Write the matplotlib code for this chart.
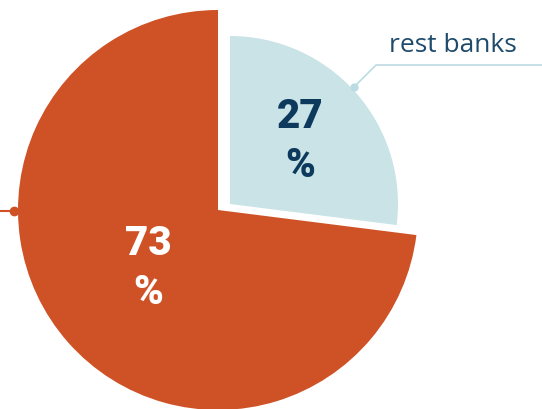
import matplotlib.pyplot as plt
import matplotlib.font_manager as fm

labels = ["rest banks", ""]
shares = [27, 73]
pct_text = ["27\n%", "73\n%"]

orange = "#CF5226"
light = "#C9E3E7"
navy = "#0D3A5C"
line_blue = "#BCDCE3"

names = {f.name for f in fm.fontManager.ttflist}
narrow = "Liberation Sans Narrow" if "Liberation Sans Narrow" in names else "Roboto"

fig = plt.figure(figsize=(5.42, 4.10), dpi=100)
ax = fig.add_axes([0, 0, 1, 1])

# big (orange) pie, blue slice hidden
w1, _ = ax.pie(shares, colors=["none", orange], startangle=90, counterclock=False,
               radius=200, center=(218, 199), frame=True)
# smaller, pulled out blue slice
w2, _ = ax.pie(shares, colors=[light, "none"], startangle=90, counterclock=False,
               radius=168, center=(230, 205), frame=True)
ax.set_xlim(0, 542)
ax.set_ylim(0, 410)
ax.axis("off")

ax.text(300, 269, pct_text[0], ha="center", va="center", color=navy,
        fontsize=29, fontweight="heavy", family=narrow, linespacing=1.3)
ax.text(148, 142, pct_text[1], ha="center", va="center", color="white",
        fontsize=29, fontweight="heavy", family=narrow, linespacing=1.3)

# leader for rest banks
ax.plot([354, 376, 542], [322, 344, 344], color=line_blue, lw=1.2)
ax.plot([354], [322], "o", color=line_blue, ms=5)
ax.text(453, 358, labels[0], ha="center", va="baseline", color="#1E4B6B",
        fontsize=19, family="Open Sans")

# leader for the orange slice (label outside the frame)
ax.plot([0, 14], [198, 198], color=orange, lw=1.5)
ax.plot([14], [198], "o", color=orange, ms=6)

fig.savefig("out.png", dpi=100)
